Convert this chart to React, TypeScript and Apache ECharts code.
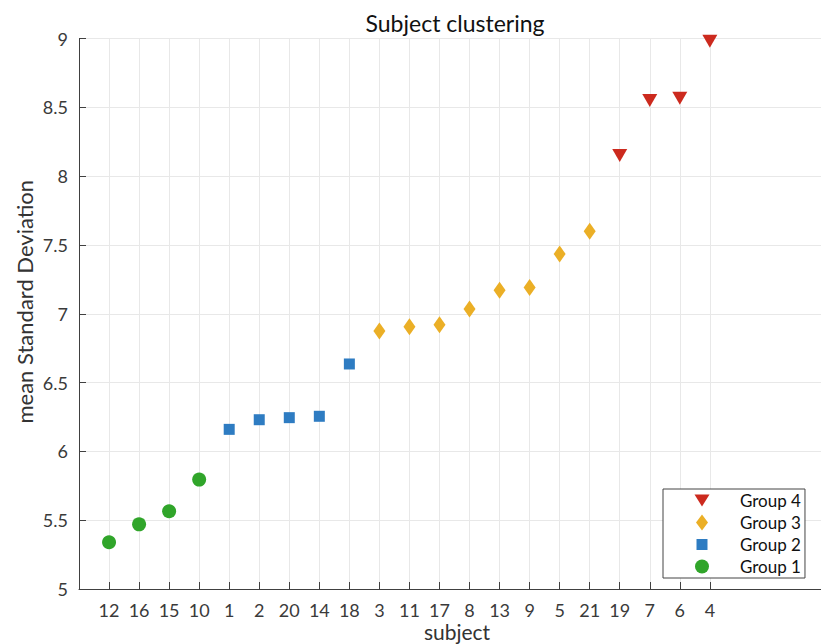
import React, { useEffect, useRef } from "react";
import * as echarts from "echarts";

const subjects = ["12", "16", "15", "10", "1", "2", "20", "14", "18", "3", "11", "17", "8", "13", "9", "5", "21", "19", "7", "6", "4"];
const group1 = [5.34, 5.47, 5.565, 5.795];
const group2 = [6.16, 6.23, 6.245, 6.255, 6.635];
const group3 = [6.875, 6.905, 6.92, 7.035, 7.17, 7.19, 7.435, 7.6];
const group4 = [8.15, 8.55, 8.565, 8.98];
const yTicks = [5, 5.5, 6, 6.5, 7, 7.5, 8, 8.5, 9];

const FONT = "Lato";

export default function App() {
  const ref = useRef<HTMLDivElement>(null);
  useEffect(() => {
    document.body.style.margin = "0";
    const chart = echarts.init(ref.current!, undefined, { renderer: "svg" });
    const positions = subjects.map((_, i) => i + 1);
    let off = 0;
    const mk = (vals: number[]) => {
      const d = vals.map((v, i) => [positions[off + i], v]);
      off += vals.length;
      return d;
    };
    const d1 = mk(group1);
    const d2 = mk(group2);
    const d3 = mk(group3);
    const d4 = mk(group4);
    const gridColor = "#e8e8e8";
    const colors = { g4: "#cc2a1e", g3: "#ebaf26", g2: "#2e7cc2", g1: "#30a52a" };
    chart.setOption({
      animation: false,
      backgroundColor: "#fff",
      textStyle: { fontFamily: FONT },
      title: {
        text: "Subject clustering",
        left: 450,
        textAlign: "center",
        top: 6,
        textStyle: { fontFamily: FONT, fontSize: 23, fontWeight: "normal", color: "#111" },
      },
      grid: { left: 79, top: 38.5, width: 742, height: 550.5, outerBoundsMode: "none", containLabel: false },
      xAxis: {
        type: "value",
        min: 0,
        max: 24.7,
        interval: 1,
        name: "subject",
        nameLocation: "middle",
        nameGap: 32,
        nameMoveOverlap: false,
        nameTextStyle: { fontFamily: FONT, fontSize: 21, lineHeight: 21, color: "#333", padding: [0, 0, 0, 14] },
        axisLine: { show: true, onZero: false, lineStyle: { color: "#404040", width: 1 } },
        axisTick: { show: true, inside: true, length: 7, customValues: positions, lineStyle: { color: "#404040" } },
        axisLabel: {
          customValues: positions,
          formatter: (v: number) => subjects[Math.round(v) - 1] ?? "",
          fontFamily: FONT,
          fontSize: 18,
          lineHeight: 18,
          color: "#3a3a3a",
          margin: 12,
        },
        splitLine: { show: false },
      },
      yAxis: {
        type: "value",
        min: yTicks[0],
        max: yTicks[yTicks.length - 1],
        interval: 0.5,
        name: "mean Standard Deviation",
        nameLocation: "middle",
        nameGap: 44,
        nameMoveOverlap: false,
        nameTextStyle: { fontFamily: FONT, fontSize: 22, color: "#333", padding: [0, 0, 0, 24] },
        axisLine: { show: true, lineStyle: { color: "#404040", width: 1 } },
        axisTick: { show: true, inside: true, length: 7, lineStyle: { color: "#404040" } },
        axisLabel: { fontFamily: FONT, fontSize: 18, color: "#3a3a3a", margin: 11 },
        splitLine: { show: true, lineStyle: { color: gridColor, width: 1 } },
      },
      legend: {
        orient: "vertical",
        left: 663,
        top: 489,
        data: [
          { name: "Group 4", icon: "path://M0,0 M16,16 M0.5,2 L15.5,2 L8,14 Z" },
          { name: "Group 3", icon: "path://M0,0 M16,16 M8,0 L14,8 L8,16 L2,8 Z" },
          { name: "Group 2", icon: "path://M0,0 M16,16 M2.5,2.5 L13.5,2.5 L13.5,13.5 L2.5,13.5 Z" },
          { name: "Group 1", icon: "path://M0,0 M16,16 M1,8 A7,7 0 1,1 15,8 A7,7 0 1,1 1,8 Z" },
        ],
        backgroundColor: "#fff",
        borderColor: "#444",
        borderWidth: 1,
        borderRadius: 0,
        padding: [3, 4, 3, 31],
        itemWidth: 16,
        itemHeight: 16,
        itemGap: 5,
        z: 10,
        textStyle: { fontFamily: FONT, fontSize: 17, color: "#111", padding: [0, 0, 0, 25] },
      },
      series: [
        {
          type: "line",
          name: "grid",
          data: [],
          silent: true,
          z: 0,
          markLine: {
            silent: true,
            z: 0,
            symbol: ["none", "none"],
            label: { show: false },
            lineStyle: { color: gridColor, type: "solid", width: 1 },
            data: positions.map((p) => ({ xAxis: p })),
          },
        },
        {
          type: "scatter",
          name: "Group 4",
          data: d4,
          symbol: "triangle",
          symbolRotate: 180,
          symbolSize: [15, 13],
          itemStyle: { color: colors.g4, opacity: 1 },
          z: 3,
        },
        {
          type: "scatter",
          name: "Group 3",
          data: d3,
          symbol: "diamond",
          symbolSize: [12, 17],
          itemStyle: { color: colors.g3, opacity: 1 },
          z: 3,
        },
        {
          type: "scatter",
          name: "Group 2",
          data: d2,
          symbol: "rect",
          symbolSize: 11,
          itemStyle: { color: colors.g2, opacity: 1 },
          z: 3,
        },
        {
          type: "scatter",
          name: "Group 1",
          data: d1,
          symbol: "circle",
          symbolSize: 14,
          itemStyle: { color: colors.g1, opacity: 1 },
          z: 3,
        },
      ],
    });
    return () => chart.dispose();
  }, []);
  return <div ref={ref} style={{ width: 821, height: 644 }} />;
}
